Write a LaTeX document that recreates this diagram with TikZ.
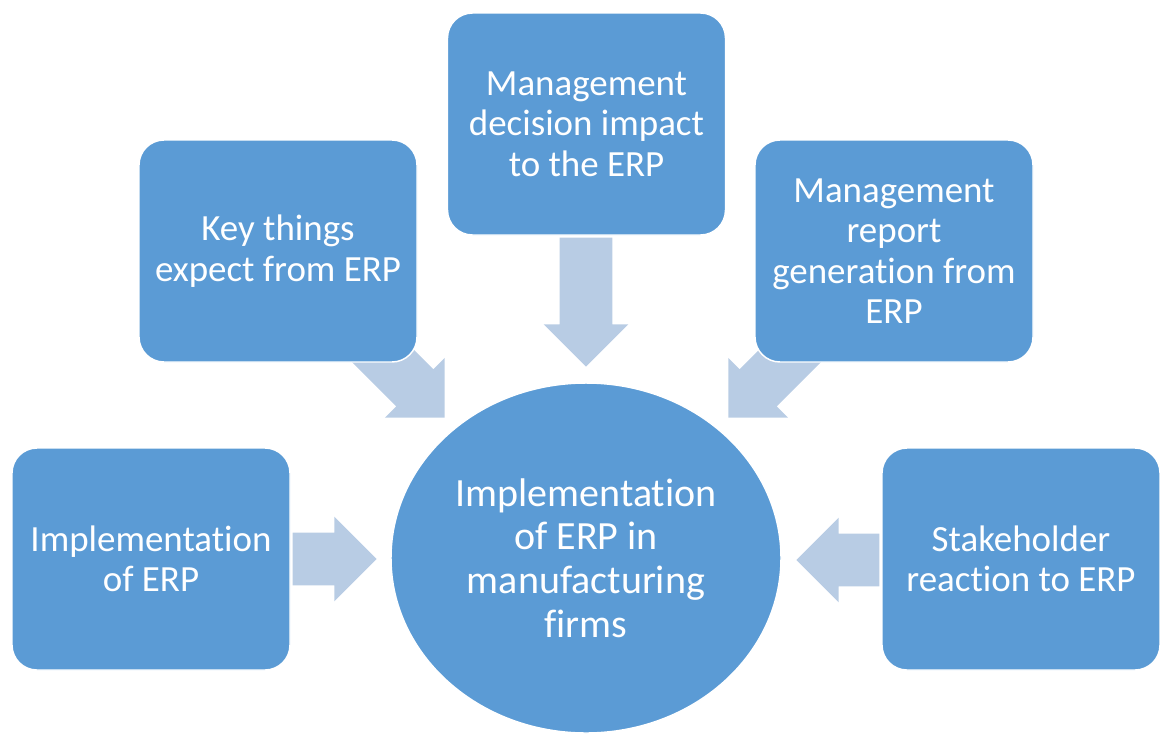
\documentclass[tikz,border=0pt]{standalone}
\usepackage{fontspec}
\setmainfont{Carlito}[Ligatures=NoCommon]
\usepackage{xcolor}
\usetikzlibrary{shapes.geometric, shapes.arrows, positioning}
\definecolor{boxblue}{HTML}{5B9BD5}
\definecolor{flowblue}{HTML}{B8CCE4}
\tikzset{
    stage/.style={
        rectangle,
        rounded corners=18.75pt,
        draw=white,
        line width=1.1pt,
        fill=boxblue,
        text=white,
        minimum width=208.5pt,
        minimum height=166.5pt,
        inner sep=0pt,
        align=center,
        font=\fontsize{27.7}{30.4}\selectfont
    },
    hub/.style={
        ellipse,
        draw=white,
        line width=1.1pt,
        fill=boxblue,
        text=white,
        minimum width=292.5pt,
        minimum height=262.5pt,
        inner sep=0pt,
        align=center,
        font=\fontsize{30}{32.8}\selectfont
    },
    flow/.style={
        single arrow,
        single arrow head extend=12pt,
        fill=flowblue,
        draw=none,
        inner xsep=0pt,
        inner ysep=19.5pt,
        anchor=tip
    }
}

\begin{document}
\begin{tikzpicture}[x=0.75pt, y=-0.75pt]
\useasboundingbox (0,0) rectangle (1160,733);

% Arrows into the centre (drawn first, boxes sit on top)
\node[flow, minimum height=96.75pt, rotate=-90] (flowtop) at (586,367) {};
\node[flow, minimum height=90pt, rotate=-45] (flowkey) at (445,418) {};
\node[flow, minimum height=90pt, rotate=-135] (flowreport) at (728,418) {};
\node[flow, minimum height=63pt] (flowimpl) at (377,559) {};
\node[flow, minimum height=62.25pt, rotate=180] (flowstake) at (796,560) {};

% Centre
\node[hub] (erp) at (586,558) {Implementation\\of ERP in\\manufacturing\\firms};

% Surrounding boxes
\node[stage] (decision) at (586.5,124) {Management\\decision impact\\to the ERP};
\node[stage] (keythings) at (278,251) {Key things\\expect from ERP};
\node[stage] (report) at (894,251) {Management\\report\\generation from\\ERP};
\node[stage] (impl) at (151,559) {Implementation\\of ERP};
\node[stage] (stake) at (1021,559) {Stakeholder\\reaction to ERP};

\end{tikzpicture}
\end{document}
